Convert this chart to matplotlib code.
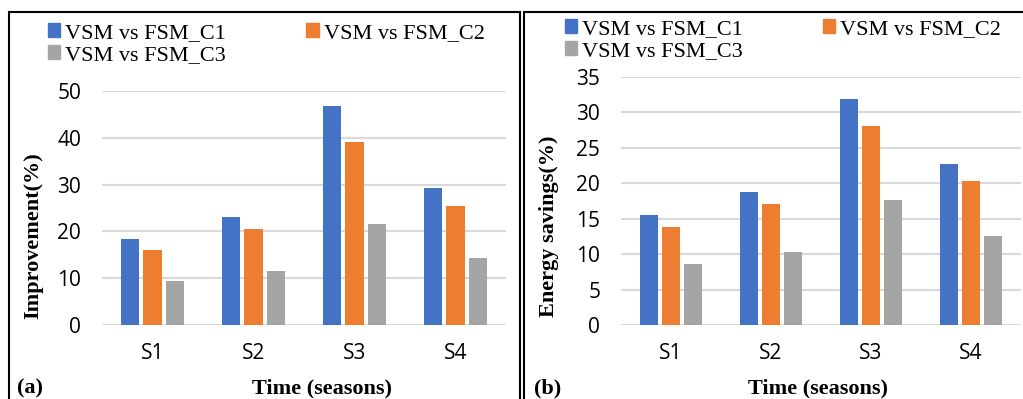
import matplotlib
matplotlib.use('Agg')
import matplotlib.pyplot as plt
from matplotlib.patches import Patch, Rectangle
import numpy as np

# Data
seasons = ['S1', 'S2', 'S3', 'S4']
series_names = ['VSM vs FSM_C1', 'VSM vs FSM_C2', 'VSM vs FSM_C3']
improvement_c1 = [18.3, 23.1, 46.7, 29.3]
improvement_c2 = [16.0, 20.6, 39.0, 25.4]
improvement_c3 = [9.4, 11.5, 21.5, 14.4]
savings_c1 = [15.5, 18.8, 31.9, 22.7]
savings_c2 = [13.8, 17.1, 28.1, 20.3]
savings_c3 = [8.6, 10.3, 17.7, 12.6]

colors = ['#4472C4', '#ED7D31', '#A5A5A5']
serif = 'Liberation Serif'
sans = 'Open Sans'

fig = plt.figure(figsize=(10.23, 3.99), dpi=100)


def draw_panel(rect, series, ymax, ystep, ylabel):
    ax = fig.add_axes(rect)
    x = np.arange(len(seasons))
    width = 0.18
    step = 0.22
    for i, vals in enumerate(series):
        ax.bar(x + (i - 1) * step, vals, width, color=colors[i], zorder=3)
    ax.set_xlim(-0.5, len(seasons) - 0.5)
    ax.set_ylim(0, ymax)
    ax.set_yticks(np.arange(0, ymax + 0.1, ystep))
    ax.set_xticks(x)
    ax.set_xticklabels(seasons, family=sans, fontsize=15)
    for t in ax.get_yticklabels():
        t.set_family(sans)
        t.set_fontsize(15)
    ax.tick_params(length=0)
    ax.tick_params(axis='y', pad=15)
    ax.tick_params(axis='x', pad=13)
    ax.grid(axis='y', color='#d9d9d9', linewidth=1.5, zorder=0)
    for s in ax.spines.values():
        s.set_visible(False)
    ax.set_ylabel(ylabel, family=serif, fontweight='bold', fontsize=16)
    return ax


ax1 = draw_panel([0.0997, 0.1855, 0.395, 0.5865],
                 [improvement_c1, improvement_c2, improvement_c3],
                 50, 10, 'Improvement(%)')
ax2 = draw_panel([0.607, 0.1855, 0.391, 0.6216],
                 [savings_c1, savings_c2, savings_c3],
                 35, 5, 'Energy savings(%)')
ax1.yaxis.set_label_coords(-0.146, 0.38)
ax2.yaxis.set_label_coords(-0.155, 0.40)

# Legends: row order C1, C2 / C3
handles = [Patch(color=c) for c in colors]
order = [0, 2, 1]
for xl, yl in [(0.047, 0.942), (0.552, 0.952)]:
    fig.legend([handles[i] for i in order], [series_names[i] for i in order],
               loc='upper left', bbox_to_anchor=(xl, yl), ncol=2, frameon=False,
               prop={'family': serif, 'size': 16}, handlelength=0.55,
               handleheight=0.55, handletextpad=0.23, columnspacing=3.6,
               labelspacing=0.12, borderaxespad=0, borderpad=0)

# Axis titles and panel tags
fig.text(0.315, 0.026, 'Time (seasons)', family=serif, fontweight='bold',
         fontsize=16, ha='center', va='center')
fig.text(0.8, 0.026, 'Time (seasons)', family=serif, fontweight='bold',
         fontsize=16, ha='center', va='center')
fig.text(0.017, 0.026, '(a)', family=serif, fontweight='bold',
         fontsize=16, ha='left', va='center')
fig.text(0.522, 0.026, '(b)', family=serif, fontweight='bold',
         fontsize=16, ha='left', va='center')

# Panel frames
fig.patches.append(Rectangle((9 / 1023, -0.05), 511 / 1023, 1 - 12 / 399 + 0.05,
                             transform=fig.transFigure, fill=False,
                             edgecolor='black', linewidth=1.5))
fig.patches.append(Rectangle((524 / 1023, -0.05), 520 / 1023, 1 - 12 / 399 + 0.05,
                             transform=fig.transFigure, fill=False,
                             edgecolor='black', linewidth=1.5))

fig.savefig('out.png', dpi=100)
